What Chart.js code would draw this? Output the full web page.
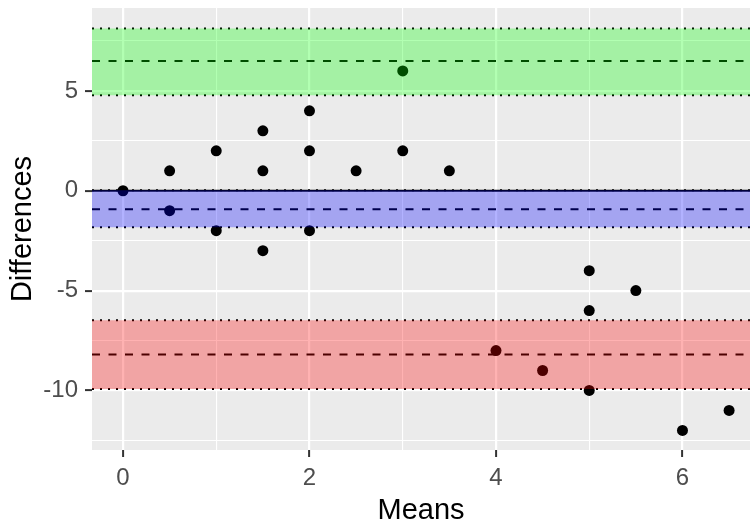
<!DOCTYPE html>
<html><head><meta charset="utf-8">
<script src="https://cdn.jsdelivr.net/npm/chart.js@4.4.0/dist/chart.umd.min.js"></script>
<style>html,body{margin:0;padding:0;background:#fff;overflow:hidden}#wrap{width:750px;height:530px;position:relative}</style>
</head><body><div id="wrap"><canvas id="c" width="750" height="530"></canvas></div>
<script>
// Data
const means = [0, 0.5, 0.5, 1, 1, 1.5, 1.5, 1.5, 2, 2, 2, 2.5, 3, 3, 3.5, 4, 4.5, 5, 5, 5, 5.5, 6, 6.5];
const diffs = [0, 1, -1, 2, -2, 3, 1, -3, 4, 2, -2, 1, 6, 2, 1, -8, -9, -4, -6, -10, -5, -12, -11];
const bandCenter = [6.5, -0.92, -8.2];
const bandLower = [4.78, -1.83, -9.92];
const bandUpper = [8.12, 0.02, -6.48];
const bandColors = ['rgba(0,255,0,0.3)', 'rgba(0,0,255,0.3)', 'rgba(255,0,0,0.3)'];
const zeroLine = 0;
const xMajorTicks = [0, 2, 4, 6];
const xTickLabels = ['0', '2', '4', '6'];
const xMinorTicks = [1, 3, 5];
const yMajorTicks = [-10, -5, 0, 5];
const yTickLabels = ['-10', '-5', '0', '5'];
const yMinorTicks = [-12.5, -7.5, -2.5, 2.5, 7.5];
const X_MIN = -0.3324, X_MAX = 6.724, Y_MIN = -12.98, Y_MAX = 9.15;

const FONT = 'Liberation Sans, Arial, sans-serif';

const datasets = [];
// bands (on top, semi-transparent)
for (let i = 0; i < bandCenter.length; i++) {
  datasets.push({
    type: 'line', order: 0,
    data: [{x: X_MIN, y: bandUpper[i]}, {x: X_MAX, y: bandUpper[i]}],
    borderWidth: 0, borderColor: 'transparent', pointRadius: 0,
    backgroundColor: bandColors[i], fill: '+1'
  });
  datasets.push({
    type: 'line', order: 0,
    data: [{x: X_MIN, y: bandLower[i]}, {x: X_MAX, y: bandLower[i]}],
    borderWidth: 0, borderColor: 'transparent', pointRadius: 0, fill: false
  });
}
// reference lines
function hline(y, dash) {
  return {
    type: 'line', order: 1,
    data: [{x: X_MIN, y: y}, {x: X_MAX, y: y}],
    borderColor: '#000000', borderWidth: 2, borderDash: dash, borderCapStyle: 'butt',
    pointRadius: 0, fill: false
  };
}
datasets.push(hline(zeroLine, []));
for (let i = 0; i < bandCenter.length; i++) {
  datasets.push(hline(bandCenter[i], [8, 8.5]));
  datasets.push(hline(bandUpper[i], [2, 6]));
  datasets.push(hline(bandLower[i], [2, 6]));
}
// points
datasets.push({
  type: 'scatter', order: 2,
  data: means.map((m, i) => ({x: m, y: diffs[i]})),
  pointRadius: 5.5, pointBackgroundColor: '#000000', pointBorderWidth: 0, pointBorderColor: '#000000'
});

const panelBg = {
  id: 'panelBg',
  beforeDraw(chart) {
    const {ctx, chartArea: a} = chart;
    ctx.save();
    ctx.fillStyle = '#EBEBEB';
    ctx.fillRect(a.left, a.top, a.right - a.left, a.bottom - a.top);
    ctx.restore();
  }
};

function zeroPad(s) { s.paddingLeft = 0; s.paddingRight = 0; s.paddingTop = 0; s.paddingBottom = 0; }

new Chart(document.getElementById('c'), {
  type: 'scatter',
  data: {datasets},
  plugins: [panelBg],
  options: {
    responsive: false, animation: false, devicePixelRatio: 1,
    layout: {autoPadding: false, padding: {top: 8, left: 0, right: 0, bottom: 0}},
    plugins: {legend: {display: false}, tooltip: {enabled: false}},
    scales: {
      x: {
        type: 'linear', position: 'bottom', min: X_MIN, max: X_MAX,
        afterBuildTicks: s => { s.ticks = xMajorTicks.map(v => ({value: v})); },
        afterFit: s => { s.height = 80; zeroPad(s); },
        ticks: {color: '#4D4D4D', font: {family: FONT, size: 24}, padding: 7, autoSkip: false, maxRotation: 0,
          callback: (v, i) => xTickLabels[i]},
        grid: {color: '#FFFFFF', lineWidth: 2.2, tickColor: '#333333', tickWidth: 2, tickLength: 7, drawOnChartArea: true},
        border: {display: false},
        title: {display: true, text: 'Means', color: '#000000', font: {family: FONT, size: 29}, padding: {top: 0, bottom: 2}}
      },
      x2: {
        type: 'linear', position: 'bottom', min: X_MIN, max: X_MAX,
        afterBuildTicks: s => { s.ticks = xMinorTicks.map(v => ({value: v})); },
        afterFit: s => { s.height = 0; zeroPad(s); },
        ticks: {display: false},
        grid: {color: '#FFFFFF', lineWidth: 1.1, drawTicks: false, drawOnChartArea: true},
        border: {display: false}
      },
      y: {
        type: 'linear', position: 'left', min: Y_MIN, max: Y_MAX,
        afterBuildTicks: s => { s.ticks = yMajorTicks.map(v => ({value: v})); },
        afterFit: s => { s.width = 92; zeroPad(s); },
        ticks: {color: '#4D4D4D', font: {family: FONT, size: 24}, padding: 7, autoSkip: false,
          callback: (v, i) => yTickLabels[i]},
        grid: {color: '#FFFFFF', lineWidth: 2.2, tickColor: '#333333', tickWidth: 2, tickLength: 7, drawOnChartArea: true},
        border: {display: false},
        title: {display: true, text: 'Differences', color: '#000000', font: {family: FONT, size: 29}, padding: {top: 6, bottom: 0}}
      },
      y2: {
        type: 'linear', position: 'left', min: Y_MIN, max: Y_MAX,
        afterBuildTicks: s => { s.ticks = yMinorTicks.map(v => ({value: v})); },
        afterFit: s => { s.width = 0; zeroPad(s); },
        ticks: {display: false},
        grid: {color: '#FFFFFF', lineWidth: 1.1, drawTicks: false, drawOnChartArea: true},
        border: {display: false}
      }
    }
  }
});
</script>
</body></html>
